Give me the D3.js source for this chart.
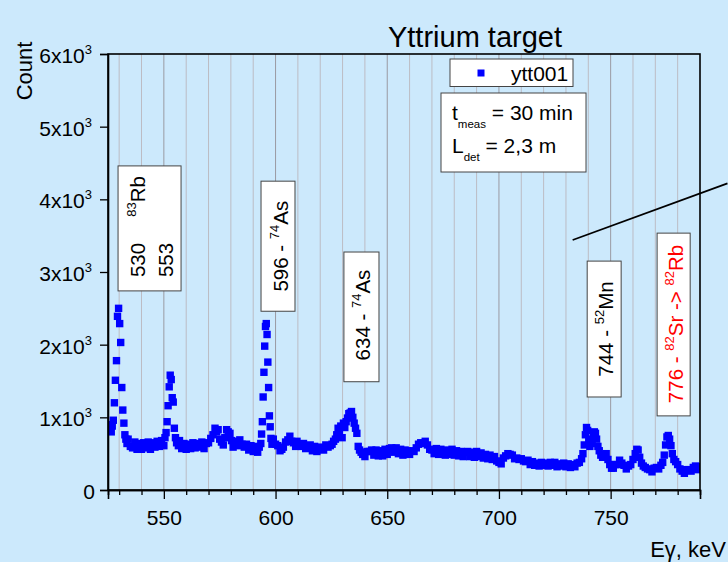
<!DOCTYPE html>
<html>
<head>
<meta charset="utf-8">
<script src="https://cdn.jsdelivr.net/npm/d3@7"></script>
<style>
  html, body { margin: 0; padding: 0; background: #cce9fc; }
  svg { display: block; font-family: Arial, "Liberation Sans", sans-serif; }
</style>
</head>
<body>
<svg id="chart" width="728" height="562"></svg>
<script>
// ---- chart values ----
const xMajorTicks = [550, 600, 650, 700, 750];
const xMinorTicks = [530, 540, 560, 570, 580, 590, 610, 620, 630, 640, 660, 670, 680, 690, 710, 720, 730, 740, 760, 770, 780];
const yTicks = [0, 1000, 2000, 3000, 4000, 5000, 6000];
const seriesName = "ytt001";

// gamma spectrum: [energy keV, counts]
const spectrum = [
  [525.5,830],[525.95,900],[526.45,800],[526.9,880],
  [527.37,960],[527.86,1200],[528.31,1510],[528.8,1780],[529.25,2390],[529.74,2500],[530.23,2290],[530.68,2030],[531.17,1410],[531.62,1100],[532.11,920],[532.56,760],
  [533.0,700],[533.5,640],[534,700],[535,600],[536,580],[537,660],[538,560],[539,640],[540,560],[541,650],[542,580],[543,660],[544,560],[545,650],[546,590],[547,670],[548,600],[549,680],[550,610],
  [550.5,720],[551.0,790],[551.45,940],[551.9,1160],[552.4,1420],[552.85,1580],[553.3,1520],[553.75,1270],[554.2,1210],[554.7,850],[555.2,720],[555.7,650],
  [556.5,610],[557,680],[558,570],[559,640],[560,560],[561,630],[562,570],[563,650],[564,580],[565,640],[566,590],[567,660],[568,570],[569,640],[570,650],[571,710],
  [572,760],[572.9,850],[573.6,800],[574.3,830],[575,700],[575.8,660],[576.6,620],[577.3,720],[578.1,830],[578.8,800],[579.6,780],[580.3,680],
  [581,590],[582,670],[583,610],[584,690],[585,630],[586,590],[587,630],[588,550],[589,610],[590,530],[591,600],[592,520],[592.7,590],
  [593.4,640],[593.75,770],[594.1,940],[594.45,1280],[594.8,1620],[595.15,1980],[595.5,2250],[595.85,2290],[596.2,2140],[596.55,1760],[596.9,1410],[597.25,1020],[597.6,870],[597.95,710],
  [598.4,630],[599,700],[600,630],[601,610],[602,540],[602.8,560],[603.5,590],[604.5,660],[605.5,690],[606.4,740],[607.2,670],[608,650],[609,600],[609.6,670],[610.5,610],[611.5,600],[612.5,640],[613.5,570],[614.5,580],[615.5,620],[616.5,540],[617.5,600],[618.5,530],[619.5,590],[620.5,580],[621.5,550],[622.5,620],[623.5,590],[624.5,610],[625.3,630],[626,670],
  [626.8,700],[627.4,760],[628,850],[628.6,780],[629.2,880],[629.8,720],[630.4,920],[631,860],[631.6,940],[632.2,990],[632.8,1050],[633.4,1060],[634,1080],[634.6,1000],[635.2,920],[635.8,850],[636.4,780],[637,600],[637.6,550],[638.3,520],
  [639,490],[640,460],[641,530],[642,530],[643,550],[644,480],[645,550],[646,470],[647,540],[648,470],[649,560],[650,490],[651,570],[652,580],[653,520],[654,580],[655,500],[656,560],[657,480],[658,550],[659,540],[660,490],[661,540],[662,530],
  [663,580],[664,630],[665,650],[666,640],[667,670],[668,620],[669,560],
  [670,550],[671,500],[672,570],[673,490],[674,560],[675,510],[676,480],[677,550],[678,490],[679,560],[680,480],[681,540],[682,470],[683,530],[684,460],[685,520],[686,530],[687,460],[688,520],[689,450],[690,530],[691,460],[692,510],[693,440],[694,490],[695,430],[696,480],[697,420],[698,460],[699,400],[700,380],
  [701,360],[702,440],[703,470],[704,500],[705,490],[706,480],[707,430],[708,440],[709,420],[710,430],[711,400],[712,390],[713,410],[714,350],[715,390],[716,340],[717,370],[718,330],[719,380],[720,340],[721,370],[722,330],[723,380],[724,340],[725,380],[726,320],[727,360],[728,330],[729,370],[730,320],[731,360],[732,310],[733,350],[734,320],[735,370],[736,380],[737,430],
  [737.6,500],[738.2,620],[738.7,760],[739.2,860],[739.7,820],[740.2,700],[740.7,600],[741.2,680],[741.7,640],[742.2,740],[742.7,800],[743.2,780],[743.7,700],[744.3,600],[744.9,540],[745.6,480],[746.4,450],[747.2,480],[748,500],[748.8,420],[749.6,350],[750.4,300],
  [751.2,300],[752,350],[753,350],[754,410],[755,370],[756,340],[757,290],[758,330],[759,350],[760,420],[761,500],[761.7,560],[762.3,550],[763,450],[763.8,370],[764.6,330],[765.5,310],[766.5,290],[767.5,280],[768.5,250],[769.5,300],[770.5,310],[771.5,290],[772.5,340],
  [773.3,380],[774,480],[774.6,620],[775.2,730],[775.8,750],[776.4,700],[777,610],[777.6,500],[778.3,420],[779.1,390],
  [780,350],[781,290],[782,260],[783,230],[784,280],[785,280],[786,260],[787,310],[788,330],[789,280],[790,320],[791,300]
];

// peak identification labels (rotated); parts are [text, "n" | "sup"]
const peakLabels = [
  { box: [529.5, 557.7, 2740, 4460], color: "#000",
    lines: [
      { at: 541.6, parts: [["530", "n"]], anchor: "start", pos: 2930 },
      { at: 541.6, parts: [["83", "sup"], ["Rb", "n"]], anchor: "end", pos: 4320 },
      { at: 554.0, parts: [["553", "n"]], anchor: "start", pos: 2930 }
    ] },
  { box: [593.5, 608.7, 2460, 4250], color: "#000",
    lines: [{ at: 605.5, parts: [["596 - ", "n"], ["74", "sup"], ["As", "n"]], anchor: "middle", pos: 3355 }] },
  { box: [630.6, 646.3, 1490, 3275], color: "#000",
    lines: [{ at: 642.2, parts: [["634 - ", "n"], ["74", "sup"], ["As", "n"]], anchor: "middle", pos: 2408 }] },
  { box: [739.5, 754.7, 1280, 3150], color: "#000",
    lines: [{ at: 751.0, parts: [["744 - ", "n"], ["52", "sup"], ["Mn", "n"]], anchor: "middle", pos: 2215 }] },
  { box: [770.8, 785.6, 1020, 3535], color: "#ff0000",
    lines: [{ at: 782.3, parts: [["776 - ", "n"], ["82", "sup"], ["Sr -> ", "n"], ["82", "sup"], ["Rb", "n"]], anchor: "middle", pos: 2284 }] }
];

// ---- layout ----
const plot = { left: 108, right: 700, top: 54, bottom: 490 };
const fontMain = 21;
const fontLabel = 20.5;
const fontSup = 13;

const svg = d3.select("#chart");

const x = d3.scaleLinear().domain([525, 790]).range([plot.left, plot.right]);
const y = d3.scaleLinear().domain([0, 6000]).range([plot.bottom, plot.top]);

// vertical grid
const grid = svg.append("g");
grid.selectAll("line.minor").data(xMinorTicks).join("line")
  .attr("x1", d => x(d)).attr("x2", d => x(d))
  .attr("y1", plot.top).attr("y2", plot.bottom)
  .attr("stroke", "#bcbcc4").attr("stroke-width", 1);
grid.selectAll("line.major").data(xMajorTicks).join("line")
  .attr("x1", d => x(d)).attr("x2", d => x(d))
  .attr("y1", plot.top).attr("y2", plot.bottom)
  .attr("stroke", "#9a9aa2").attr("stroke-width", 1);

// spectrum markers, clipped to plot area
svg.append("clipPath").attr("id", "plotClip")
  .append("rect").attr("x", plot.left).attr("y", plot.top)
  .attr("width", plot.right - plot.left).attr("height", plot.bottom - plot.top);

const ms = 7.4;
svg.append("g").attr("clip-path", "url(#plotClip)")
  .selectAll("rect").data(spectrum).join("rect")
  .attr("x", d => x(d[0]) - ms / 2)
  .attr("y", d => y(d[1]) - ms / 2)
  .attr("width", ms).attr("height", ms)
  .attr("fill", "#0000ff");

// frame
svg.append("rect")
  .attr("x", plot.left).attr("y", plot.top)
  .attr("width", plot.right - plot.left).attr("height", plot.bottom - plot.top)
  .attr("fill", "none").attr("stroke", "#000").attr("stroke-width", 1.6);

// x axis
const xAxisG = svg.append("g").attr("transform", `translate(0,${plot.bottom})`);
xAxisG.call(d3.axisBottom(x).tickValues(xMajorTicks).tickSize(9).tickPadding(11).tickFormat(d3.format("d")));
const xMinorG = svg.append("g").attr("transform", `translate(0,${plot.bottom})`);
xMinorG.call(d3.axisBottom(x).tickValues(xMinorTicks).tickSize(5).tickFormat(""));
[xAxisG, xMinorG].forEach(g => {
  g.select(".domain").attr("stroke", "#000").attr("stroke-width", 1.6);
  g.selectAll(".tick line").attr("stroke", "#000").attr("stroke-width", 1.3);
});
xAxisG.selectAll(".tick text").attr("font-size", fontMain).attr("fill", "#000")
  .attr("font-family", "Arial, 'Liberation Sans', sans-serif");

// y axis
const yAxisG = svg.append("g").attr("transform", `translate(${plot.left},0)`);
yAxisG.call(d3.axisLeft(y).tickValues(yTicks).tickSize(8).tickPadding(6).tickFormat(""));
yAxisG.select(".domain").attr("stroke", "#000").attr("stroke-width", 1.6);
yAxisG.selectAll(".tick line").attr("stroke", "#000").attr("stroke-width", 1.3);
yAxisG.selectAll(".tick").each(function (d) {
  const t = d3.select(this).append("text")
    .attr("x", d === 0 ? -13 : -16).attr("y", 0).attr("dy", "0.4em")
    .attr("text-anchor", "end").attr("fill", "#000")
    .attr("font-size", fontMain)
    .attr("font-family", "Arial, 'Liberation Sans', sans-serif");
  if (d === 0) {
    t.text("0");
  } else {
    t.append("tspan").text(`${d / 1000}x10`);
    t.append("tspan").attr("font-size", fontSup).attr("dy", -9).text("3");
  }
});

// axis titles
svg.append("text").attr("x", 726).attr("y", 557)
  .attr("text-anchor", "end").attr("font-size", 22).attr("fill", "#000")
  .text("E\u03b3, keV");
svg.append("text")
  .attr("transform", `translate(32,71) rotate(-90)`)
  .attr("text-anchor", "middle").attr("font-size", 22).attr("fill", "#000")
  .text("Count");

// title
svg.append("text").attr("x", 475).attr("y", 47)
  .attr("text-anchor", "middle").attr("font-size", 29).attr("fill", "#000")
  .text("Yttrium target");

// legend
const leg = svg.append("g");
leg.append("rect").attr("x", 450).attr("y", 59).attr("width", 123).attr("height", 27.5)
  .attr("fill", "#fff").attr("stroke", "#444").attr("stroke-width", 1);
leg.append("rect").attr("x", 481 - 3.5).attr("y", 73 - 3.5).attr("width", 7).attr("height", 7)
  .attr("fill", "#0000ff");
leg.append("text").attr("x", 511).attr("y", 81).attr("font-size", 21).attr("fill", "#000")
  .text(seriesName);

// measurement info box
const info = svg.append("g");
info.append("rect").attr("x", 441).attr("y", 93).attr("width", 145).attr("height", 79)
  .attr("fill", "#fff").attr("stroke", "#444").attr("stroke-width", 1);
const infoRows = [
  { main: "t", sub: "meas", rest: " = 30 min", yy: 120 },
  { main: "L", sub: "det", rest: " = 2,3 m", yy: 153 }
];
infoRows.forEach(r => {
  const t = info.append("text").attr("x", 452).attr("y", r.yy)
    .attr("font-size", fontMain).attr("fill", "#000");
  t.append("tspan").text(r.main);
  t.append("tspan").attr("font-size", 11.5).attr("dy", 8).text(r.sub);
  t.append("tspan").attr("dy", -8).text(r.rest);
});

// peak label boxes
peakLabels.forEach(p => {
  const g = svg.append("g");
  const [e0, e1, c0, c1] = p.box;
  g.append("rect")
    .attr("x", x(e0)).attr("y", y(c1))
    .attr("width", x(e1) - x(e0)).attr("height", y(c0) - y(c1))
    .attr("fill", "#fff").attr("stroke", "#444").attr("stroke-width", 1);
  p.lines.forEach(l => {
    const t = g.append("text")
      .attr("transform", `translate(${x(l.at)},${y(l.pos)}) rotate(-90)`)
      .attr("text-anchor", l.anchor).attr("font-size", fontLabel).attr("fill", p.color);
    let raised = false;
    l.parts.forEach(([s, kind]) => {
      const sp = t.append("tspan").text(s);
      if (kind === "sup") {
        sp.attr("font-size", fontSup).attr("dy", raised ? 0 : -9);
        raised = true;
      } else {
        if (raised) sp.attr("dy", 9);
        raised = false;
      }
    });
  });
});

// pointer line
const pointer = [[733, 3440], [802.3, 4220]];
svg.append("line")
  .attr("x1", x(pointer[0][0])).attr("y1", y(pointer[0][1]))
  .attr("x2", x(pointer[1][0])).attr("y2", y(pointer[1][1]))
  .attr("stroke", "#000").attr("stroke-width", 1.8);
</script>
</body>
</html>
